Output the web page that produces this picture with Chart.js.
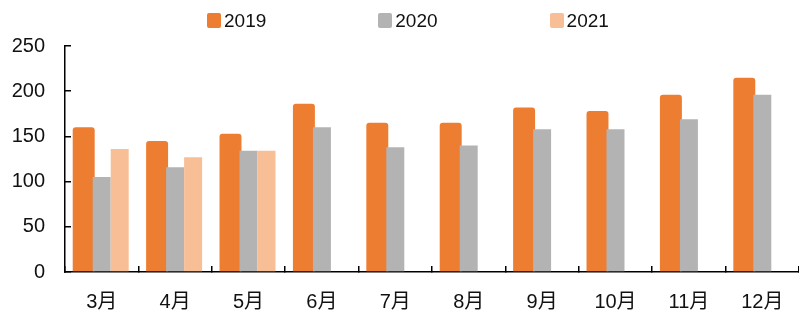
<!DOCTYPE html>
<html>
<head>
<meta charset="utf-8">
<script src="https://cdn.jsdelivr.net/npm/chart.js@4.4.1/dist/chart.umd.min.js"></script>
<style>
  html, body { margin: 0; padding: 0; background: #fff; }
  #wrap { position: relative; width: 799px; height: 315px; }
  #legend { position: absolute; left: 207px; top: 13px; display: flex; gap: 112px;
            font-family: "Liberation Sans", Arial, "Noto Sans CJK SC", sans-serif; font-size: 19px; color: #111; }
  .item { display: flex; align-items: center; height: 15px; }
  .box { width: 14px; height: 15px; border-radius: 2px; margin-right: 3px; }
</style>
</head>
<body>
<div id="wrap">
  <canvas id="salesChart" width="799" height="315"></canvas>
  <div id="legend"></div>
</div>
<script>
// --- data ---
const months = ['3月', '4月', '5月', '6月', '7月', '8月', '9月', '10月', '11月', '12月'];
const sales2019 = [160, 145, 153, 186, 165, 165, 182, 178, 196, 215];
const sales2020 = [105, 116, 134, 160, 138, 140, 158, 158, 169, 196];
const sales2021 = [136, 127, 134, null, null, null, null, null, null, null];
const yTicks = [0, 50, 100, 150, 200, 250];

const colors = { y2019: '#ED7D31', y2020: '#B3B3B3', y2021: '#F8BF97' };
const font = "'Liberation Sans', Arial, 'Noto Sans CJK SC', sans-serif";

// draw 2019 first so the grey bars sit on top of it, like the original
const drawInOrder = {
    id: 'drawInOrder',
    beforeDatasetsDraw(chart) {
        chart.data.datasets.forEach(function(ds, i) {
            const meta = chart.getDatasetMeta(i);
            if (!meta.hidden) meta.controller.draw();
        });
        return false;
    }
};

const datasets = [
    { label: '2019', data: sales2019, backgroundColor: colors.y2019, barPercentage: 1.22, borderRadius: { topLeft: 3, topRight: 3 }, borderSkipped: 'start' },
    { label: '2020', data: sales2020, backgroundColor: colors.y2020, barPercentage: 1 },
    { label: '2021', data: sales2021, backgroundColor: colors.y2021, barPercentage: 1 }
];

new Chart(document.getElementById('salesChart').getContext('2d'), {
    type: 'bar',
    data: { labels: months, datasets: datasets },
    plugins: [drawInOrder],
    options: {
        responsive: false, animation: false,
        datasets: { bar: { categoryPercentage: 0.7357 } },
        layout: { padding: { top: 46, left: 10, right: 0, bottom: 0 } },
        plugins: { legend: { display: false }, tooltip: { enabled: false } },
        scales: {
            x: {
                z: 1,
                grid: { offset: true, drawOnChartArea: false, drawTicks: true, tickLength: -6, color: '#000', lineWidth: 1.5 },
                border: { color: '#000', width: 1.5 },
                ticks: { color: '#111', padding: 24, font: { family: font, size: 20 } },
                afterFit: function(s) { s.height = 43; s.paddingLeft = 0; s.paddingRight = 0; }
            },
            y: {
                z: 1,
                min: 0, max: 250,
                afterBuildTicks: function(s) { s.ticks = yTicks.map(function(v) { return { value: v }; }); },
                grid: { drawOnChartArea: false, drawTicks: true, tickLength: -6, color: '#000', lineWidth: 1.5 },
                border: { color: '#000', width: 1.5 },
                ticks: { color: '#111', padding: 26, font: { family: font, size: 20 } },
                afterFit: function(s) { s.width = 55; }
            }
        }
    }
});

// simple html legend, same items as the datasets
const legend = document.getElementById('legend');
datasets.forEach(function(ds) {
    const item = document.createElement('div');
    item.className = 'item';
    const box = document.createElement('span');
    box.className = 'box';
    box.style.background = ds.backgroundColor;
    const txt = document.createElement('span');
    txt.textContent = ds.label;
    item.appendChild(box);
    item.appendChild(txt);
    legend.appendChild(item);
});
</script>
</body>
</html>
